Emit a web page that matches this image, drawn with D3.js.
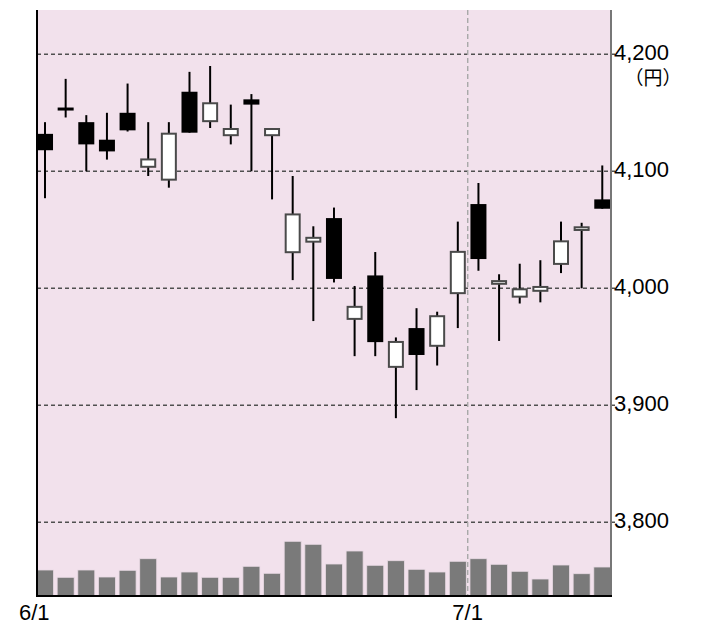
<!DOCTYPE html>
<html>
<head>
<meta charset="utf-8">
<script src="https://cdn.jsdelivr.net/npm/d3@7"></script>
<style>
  html, body { margin: 0; padding: 0; background: #ffffff; }
  svg { display: block; }
</style>
</head>
<body>
<svg id="chart" width="702" height="631"></svg>
<script>
// ---- data ----
const dates = ["6/2","6/3","6/4","6/5","6/6","6/9","6/10","6/11","6/12","6/13","6/16","6/17","6/18","6/19","6/20","6/23","6/24","6/25","6/26","6/27","6/30","7/1","7/2","7/3","7/4","7/7","7/8","7/9"];
const openVals  = [4132, 4154.5, 4142, 4127, 4150, 4103, 4092, 4168, 4142, 4130, 4161.5, 4130, 4030, 4039, 4060, 3973, 4011, 3932, 3966, 3950, 3995, 4072, 4003, 3992, 3997, 4020, 4049, 4076];
const highVals  = [4142, 4179, 4148, 4150, 4175, 4142, 4142, 4185, 4190, 4157, 4166, 4137, 4096, 4053, 4069, 4002, 4031, 3958, 3983, 3980, 4057, 4090, 4012, 4021, 4024, 4057, 4056, 4105];
const lowVals   = [4077, 4146, 4100, 4110, 4134, 4096, 4086, 4133, 4137, 4123, 4100, 4076, 4007, 3972, 4005, 3942, 3942, 3889, 3913, 3934, 3966, 4015, 3955, 3987, 3988, 4013, 4000, 4068];
const closeVals = [4118, 4153, 4123, 4117, 4135, 4111, 4133, 4133, 4159, 4137, 4157, 4137, 4064, 4044, 4008, 3985, 3954, 3955, 3943, 3977, 4032, 4025, 4007, 4000, 4002, 4041, 4053, 4068];
const volumes   = [260, 187, 260, 190, 257, 373, 190, 240, 187, 187, 297, 227, 547, 517, 320, 450, 307, 353, 267, 240, 347, 373, 317, 247, 170, 310, 223, 290];
const yTicks = [3800, 3900, 4000, 4100, 4200];
const xTickIndex = [0, 21];
const xTickLabels = ["6/1", "7/1"];
const unitLabel = "（円）";

// ---- layout ----
const plot = { left: 37, right: 611, top: 10, bottom: 596 };
const svg = d3.select("#chart");

const x = d3.scaleBand().domain(d3.range(dates.length)).range([34.7, 612.6]).padding(0);
const y = d3.scaleLinear().domain([3800, 4200]).range([522.3, 54.3]);
const yVol = d3.scaleLinear().domain([0, 1000]).range([plot.bottom, plot.bottom - 100]);

const bodyW = 16;
const fontMain = "'Liberation Sans', Arial, sans-serif";

svg.append("defs").append("clipPath").attr("id", "clip")
  .append("rect").attr("x", plot.left).attr("y", plot.top)
  .attr("width", plot.right - plot.left).attr("height", plot.bottom - plot.top);

// background
svg.append("rect")
  .attr("x", plot.left).attr("y", plot.top)
  .attr("width", plot.right - plot.left).attr("height", plot.bottom - plot.top)
  .attr("fill", "#f2e1ec");

// gridlines
svg.append("g").selectAll("line").data(yTicks).join("line")
  .attr("x1", plot.left).attr("x2", plot.right + 4)
  .attr("y1", d => y(d)).attr("y2", d => y(d))
  .attr("stroke", "#505050").attr("stroke-width", 1.6)
  .attr("stroke-dasharray", "4,3");

// month divider
svg.append("g").selectAll("line").data(xTickIndex.filter(i => i > 0)).join("line")
  .attr("x1", i => x(i) - 0.4).attr("x2", i => x(i) - 0.4)
  .attr("y1", plot.top).attr("y2", plot.bottom)
  .attr("stroke", "#a8a8a8").attr("stroke-width", 1.4)
  .attr("stroke-dasharray", "5,3");

const g = svg.append("g").attr("clip-path", "url(#clip)");

// volume bars
g.append("g").selectAll("rect").data(volumes).join("rect")
  .attr("x", (d, i) => x(i) + x.bandwidth() / 2 - 8.5)
  .attr("width", 17)
  .attr("y", d => yVol(d))
  .attr("height", d => plot.bottom - yVol(d))
  .attr("fill", "#7a7a7a")
  .attr("stroke", "#e9dae4").attr("stroke-width", 0.8);

// candles
const candles = dates.map((d, i) => ({ i, o: openVals[i], h: highVals[i], l: lowVals[i], c: closeVals[i] }));
const cg = g.append("g").selectAll("g").data(candles).join("g");
cg.append("line")
  .attr("x1", d => x(d.i) + x.bandwidth() / 2).attr("x2", d => x(d.i) + x.bandwidth() / 2)
  .attr("y1", d => y(d.h)).attr("y2", d => y(d.l))
  .attr("stroke", "#000").attr("stroke-width", 2);
cg.append("rect")
  .attr("x", d => x(d.i) + x.bandwidth() / 2 - (bodyW - 2) / 2)
  .attr("width", bodyW - 2)
  .attr("y", d => y(Math.max(d.o, d.c)) + 1)
  .attr("height", d => Math.max(1, Math.abs(y(d.o) - y(d.c)) - 2))
  .attr("fill", d => d.c < d.o ? "#000" : "#fff")
  .attr("stroke", d => d.c < d.o ? "#000" : "#4a4a4a")
  .attr("stroke-width", 2);

// borders
svg.append("line").attr("x1", plot.right).attr("x2", plot.right)
  .attr("y1", plot.top).attr("y2", plot.bottom + 1)
  .attr("stroke", "#777").attr("stroke-width", 2);
svg.append("line").attr("x1", plot.left).attr("x2", plot.left)
  .attr("y1", plot.top).attr("y2", plot.bottom + 1)
  .attr("stroke", "#000").attr("stroke-width", 2);
svg.append("line").attr("x1", plot.left - 1).attr("x2", plot.right + 1)
  .attr("y1", plot.bottom).attr("y2", plot.bottom)
  .attr("stroke", "#000").attr("stroke-width", 2);

// y labels
const fmt = d3.format(",");
svg.append("g").selectAll("text").data(yTicks).join("text")
  .attr("x", 614).attr("y", d => y(d) + 6)
  .attr("font-family", fontMain).attr("font-size", 22)
  .attr("fill", "#000")
  .text(d => fmt(d));
svg.append("text")
  .attr("x", 653).attr("y", 85)
  .attr("text-anchor", "middle")
  .attr("font-family", "'Noto Sans CJK JP', sans-serif").attr("font-size", 19)
  .attr("fill", "#000")
  .text(unitLabel);

// x labels
svg.append("g").selectAll("text").data(xTickIndex).join("text")
  .attr("x", i => x(i) - 0.5).attr("y", 620)
  .attr("text-anchor", "middle")
  .attr("font-family", fontMain).attr("font-size", 22)
  .attr("fill", "#000")
  .text((d, k) => xTickLabels[k]);
</script>
</body>
</html>
